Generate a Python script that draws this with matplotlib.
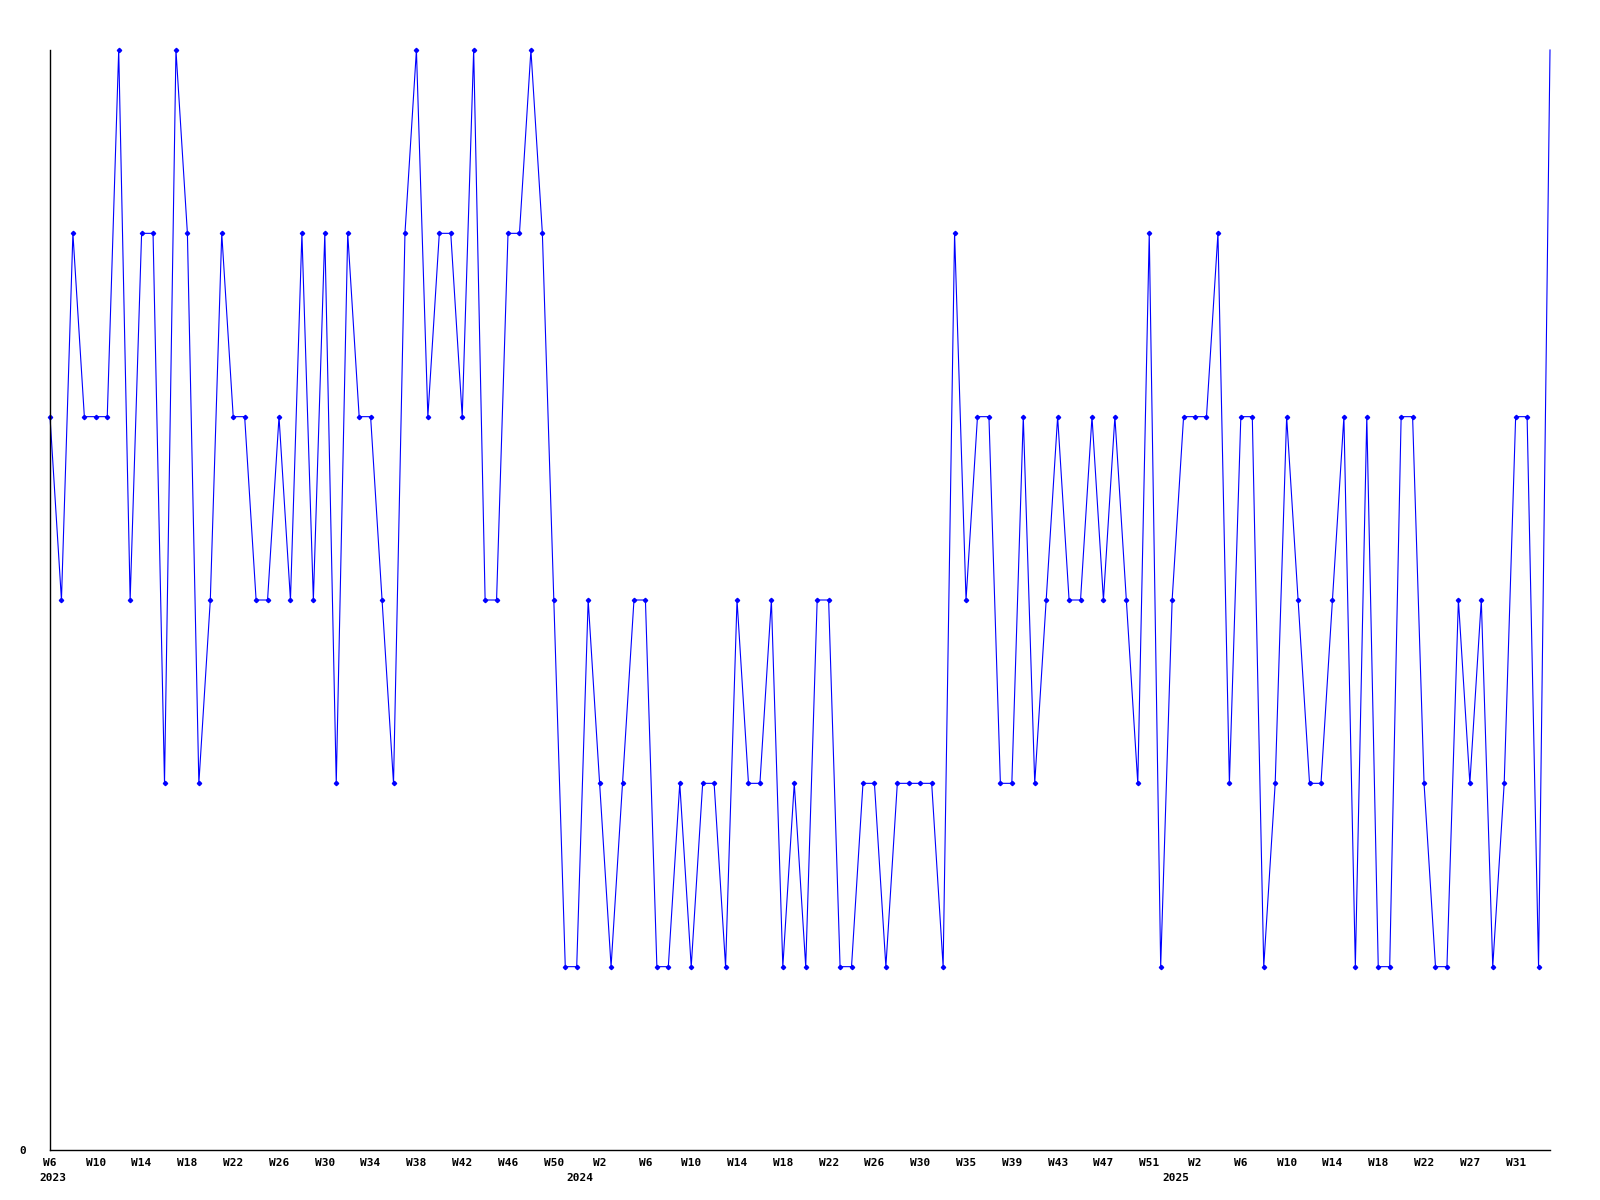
import matplotlib
matplotlib.use("Agg")
import matplotlib.pyplot as plt
import matplotlib.transforms as mtransforms

# ── Data ──────────────────────────────────────────────────────────────────────
# one value per weekly point, 2023 W6 .. 2025 W34
VALUES = [
    4, 3, 5, 4, 4, 4, 6, 3, 5, 5, 2, 6, 5, 2, 3, 5, 4, 4, 3, 3, 4, 3, 5, 3, 5,
    2, 5, 4, 4, 3, 2, 5, 6, 4, 5, 5, 4, 6, 3, 3, 5, 5, 6, 5, 3, 1, 1, 3, 2,
    1, 2, 3, 3, 1, 1, 2, 1, 2, 2, 1, 3, 2, 2, 3, 1, 2, 1, 3, 3, 1, 1, 2, 2, 1,
    2, 2, 2, 2, 1,
    5, 3, 4, 4, 2, 2, 4, 2, 3, 4, 3, 3, 4, 3, 4, 3, 2, 5, 1, 3, 4, 4, 4, 5, 2,
    4, 4, 1,
    2, 4, 3, 2, 2, 3, 4, 1, 4, 1, 1, 4, 4, 2, 1, 1, 3, 2, 3, 1, 2, 4, 4, 1, 6,
]

# labels shown under every 4th point
TICK_LABELS = [
    "W6", "W10", "W14", "W18", "W22", "W26", "W30", "W34", "W38", "W42",
    "W46", "W50", "W2", "W6", "W10", "W14", "W18", "W22", "W26", "W30",
    "W35", "W39", "W43", "W47", "W51", "W2", "W6", "W10", "W14", "W18",
    "W22", "W27", "W31",
]
TICK_STEP = 4

YEARS = ["2023", "2024", "2025"]
YEAR_START_IDX = [0, 47, 99]   # point index where each year begins

# ── Plot ──────────────────────────────────────────────────────────────────────
BLUE = "#0000FF"
FONT = dict(family="DejaVu Sans Mono", weight="bold", size=8)

x = list(range(len(VALUES)))

fig = plt.figure(figsize=(16, 12), dpi=100)
ax = fig.add_axes([50 / 1600, 50 / 1200, 1500 / 1600, 1100 / 1200])

# last point sits on the plot edge and shows no marker in the original
ax.plot(x, VALUES, color=BLUE, lw=0.8, marker="D", ms=2.2,
        mfc=BLUE, mec=BLUE, markevery=slice(0, len(VALUES) - 1),
        clip_on=False)

ax.set_xlim(0, len(VALUES) - 1)
ax.set_ylim(0, 6)

ax.set_xticks(range(0, TICK_STEP * len(TICK_LABELS), TICK_STEP))
ax.set_xticklabels(TICK_LABELS, fontdict=FONT)
ax.set_yticks([0])
ax.set_yticklabels(["0"], fontdict=FONT)
ax.tick_params(axis="x", length=0, pad=6)
ax.tick_params(axis="y", length=0, pad=17)

trans = mtransforms.blended_transform_factory(ax.transData, ax.transAxes)
for i, (year, start) in enumerate(zip(YEARS, YEAR_START_IDX)):
    if i == 0:
        ax.text(start - 0.9, -0.021, year, transform=trans,
                ha="left", va="top", **FONT)
    else:
        ax.text(start - 0.7, -0.021, year, transform=trans,
                ha="center", va="top", **FONT)

ax.spines[["top", "right"]].set_visible(False)
for s in ("left", "bottom"):
    ax.spines[s].set_linewidth(1.0)
    ax.spines[s].set_color("black")

fig.savefig("out.png", dpi=100)
